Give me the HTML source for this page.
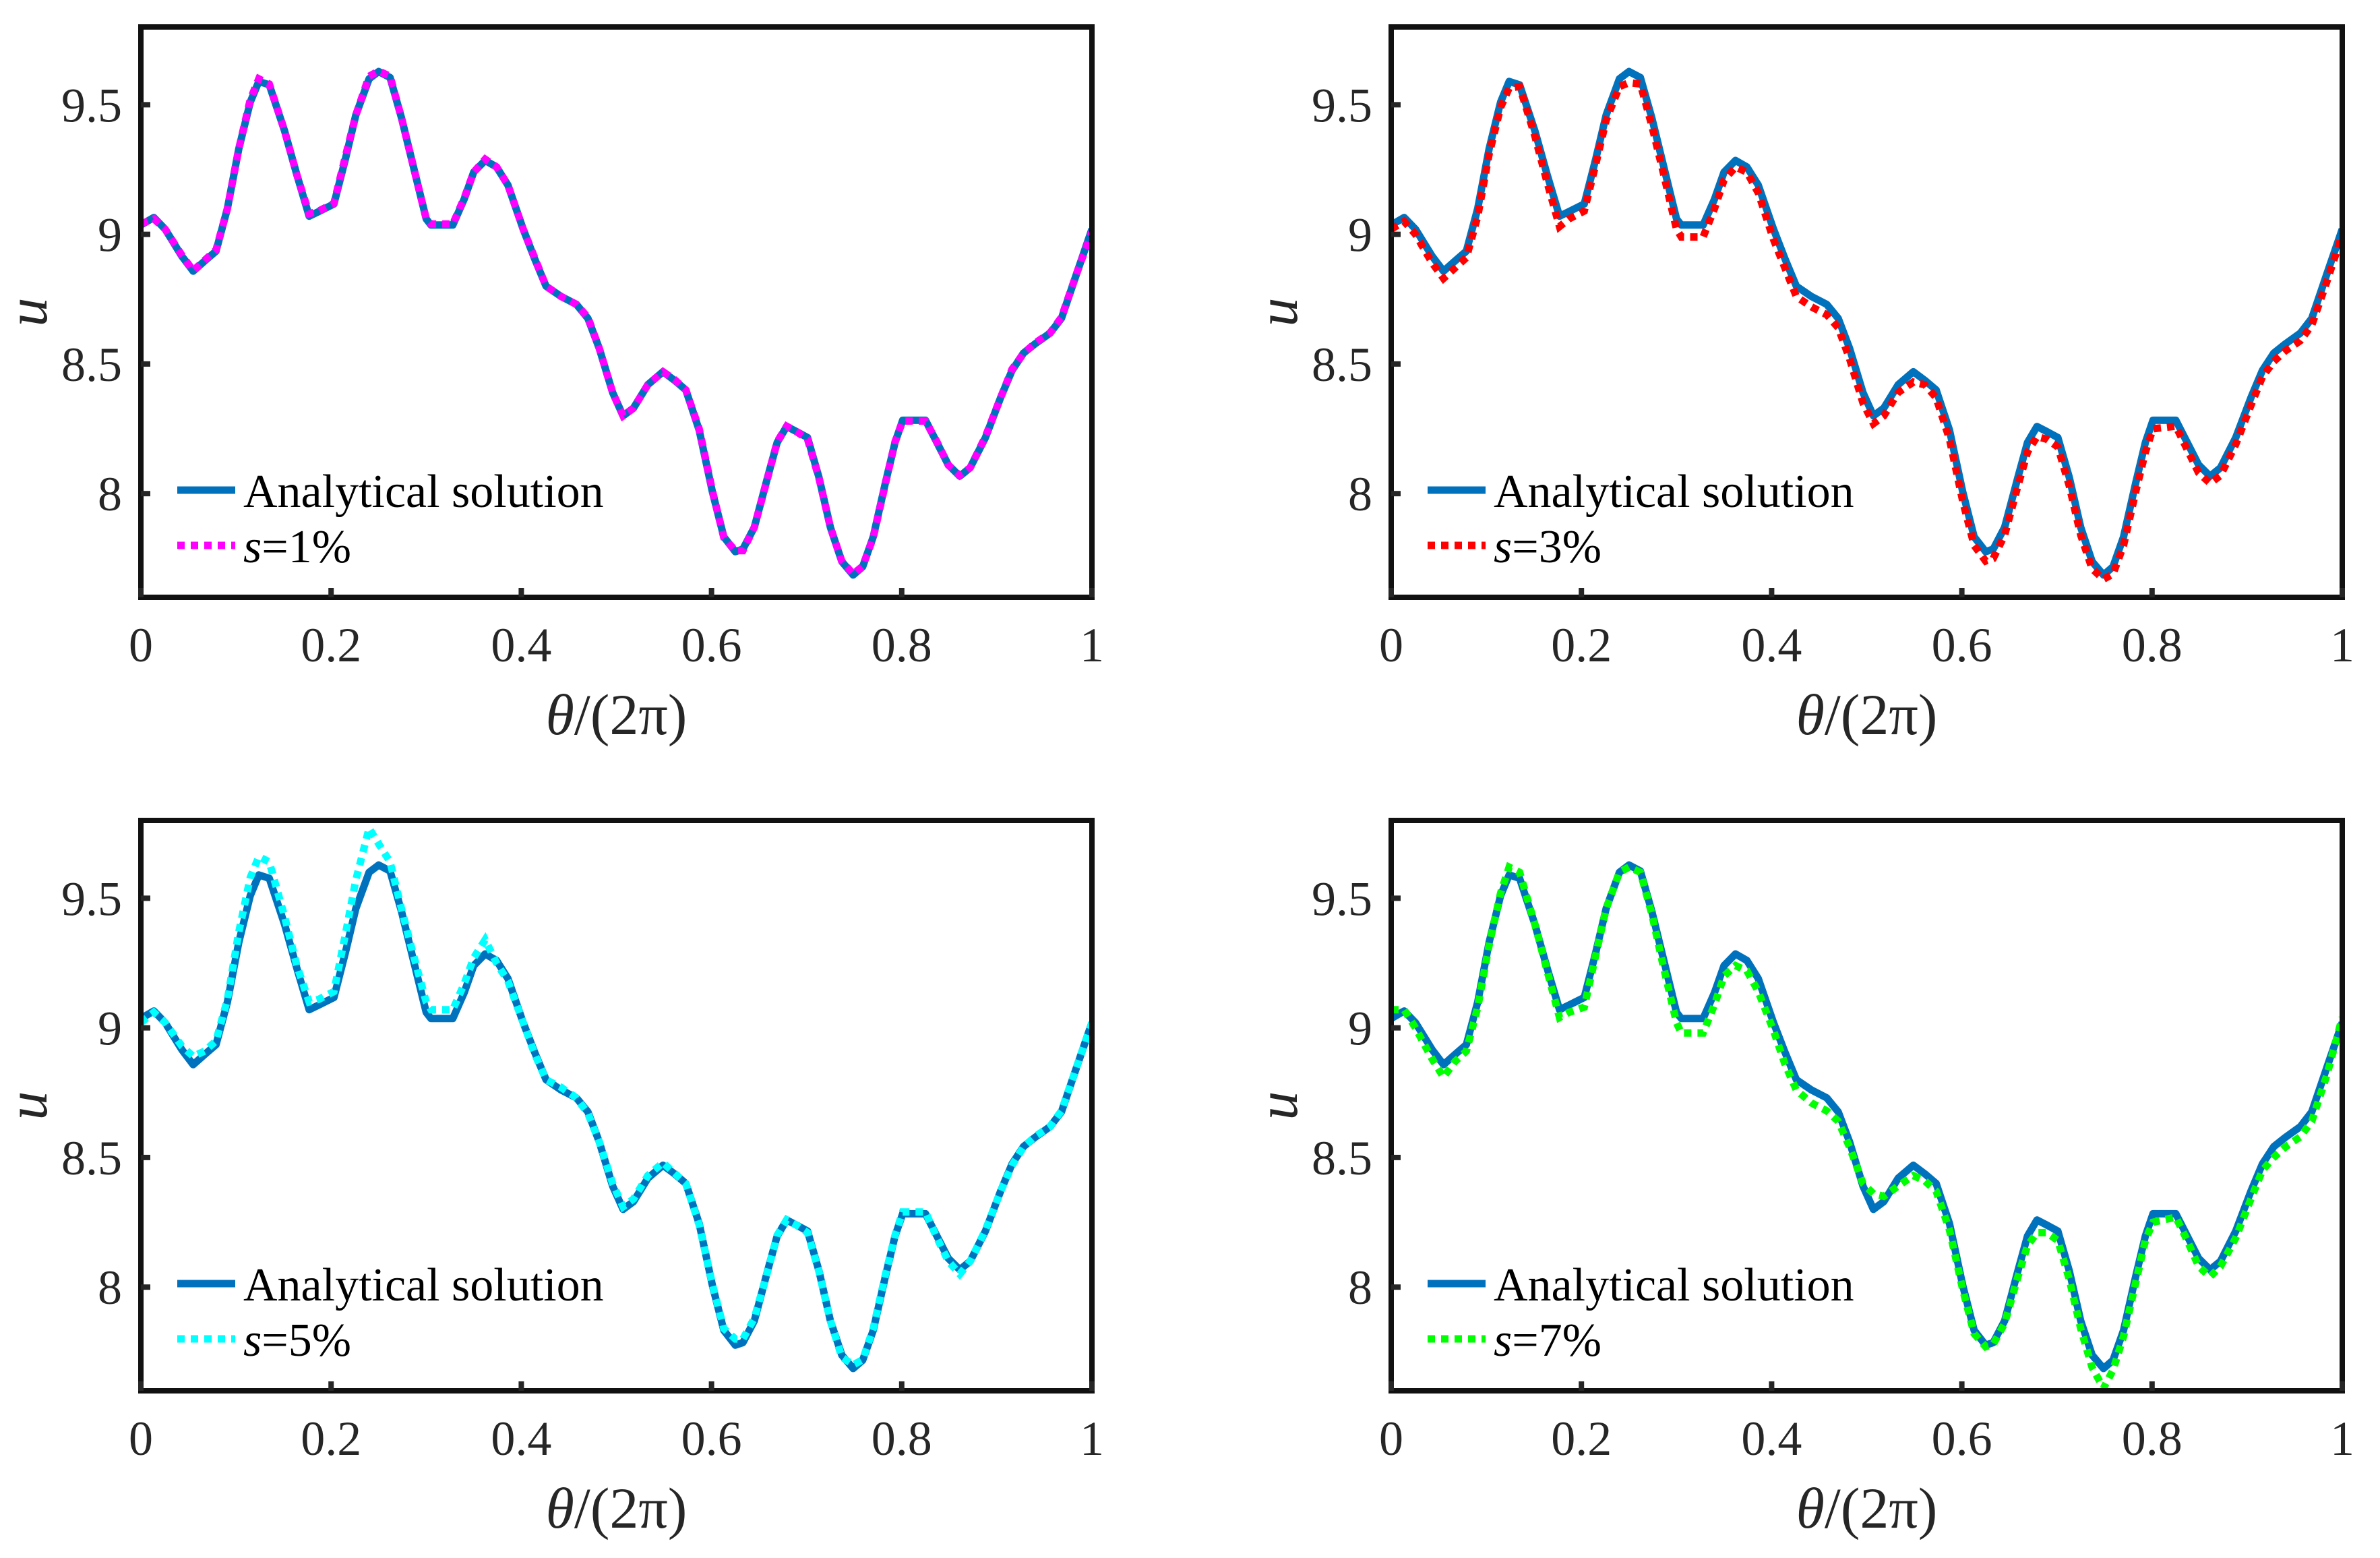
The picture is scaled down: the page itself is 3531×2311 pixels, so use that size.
<!DOCTYPE html>
<html><head><meta charset="utf-8"><style>
html,body{margin:0;padding:0;background:#fff;}
svg{display:block;font-family:"Liberation Serif","Times New Roman",serif;}
</style></head>
<body>
<svg id="fig" width="3531" height="2311" viewBox="0 0 3531 2311" xmlns="http://www.w3.org/2000/svg"></svg>
<script>
const X = [0,0.0136,0.0255,0.043,0.055,0.067,0.079,0.091,0.103,0.115,0.124,0.135,0.151,0.164,0.177,0.187,0.203,0.215,0.226,0.24,0.25,0.262,0.274,0.286,0.30,0.305,0.328,0.34,0.35,0.362,0.374,0.386,0.402,0.414,0.426,0.442,0.458,0.47,0.482,0.496,0.507,0.518,0.533,0.549,0.561,0.573,0.587,0.601,0.613,0.625,0.633,0.645,0.659,0.669,0.679,0.689,0.701,0.713,0.725,0.737,0.749,0.759,0.77,0.783,0.793,0.801,0.825,0.837,0.849,0.861,0.872,0.888,0.904,0.916,0.928,0.94,0.956,0.968,0.984,1.0];
const analytical = [9.036,9.065,9.02,8.916,8.858,8.897,8.935,9.10,9.33,9.51,9.59,9.577,9.40,9.23,9.07,9.088,9.117,9.29,9.46,9.60,9.628,9.605,9.45,9.27,9.06,9.036,9.036,9.136,9.24,9.285,9.26,9.19,9.02,8.906,8.80,8.76,8.73,8.676,8.56,8.39,8.30,8.33,8.42,8.47,8.437,8.40,8.245,8.006,7.833,7.776,7.786,7.87,8.063,8.197,8.259,8.24,8.216,8.063,7.87,7.738,7.686,7.718,7.833,8.044,8.197,8.283,8.283,8.197,8.111,8.067,8.10,8.216,8.37,8.475,8.542,8.577,8.619,8.676,8.849,9.02];
const s1 = [9.04,9.06,9.02,8.92,8.86,8.90,8.94,9.10,9.33,9.52,9.60,9.58,9.40,9.23,9.08,9.09,9.12,9.30,9.46,9.61,9.63,9.61,9.45,9.27,9.06,9.04,9.04,9.14,9.24,9.29,9.26,9.19,9.02,8.91,8.80,8.76,8.73,8.68,8.56,8.39,8.30,8.33,8.42,8.47,8.44,8.40,8.25,8.01,7.83,7.78,7.78,7.87,8.06,8.20,8.26,8.24,8.21,8.06,7.87,7.74,7.69,7.72,7.83,8.04,8.20,8.28,8.28,8.20,8.11,8.07,8.10,8.22,8.37,8.48,8.54,8.58,8.62,8.68,8.85,9.01];
const s3 = [9.02,9.05,9.00,8.89,8.83,8.87,8.91,9.07,9.31,9.49,9.565,9.57,9.38,9.20,9.03,9.06,9.09,9.27,9.44,9.57,9.585,9.58,9.42,9.24,9.02,8.99,8.99,9.10,9.21,9.26,9.24,9.16,8.98,8.87,8.76,8.72,8.69,8.64,8.52,8.35,8.27,8.30,8.39,8.43,8.42,8.37,8.21,7.97,7.80,7.74,7.75,7.84,8.03,8.16,8.22,8.21,8.18,8.03,7.84,7.71,7.67,7.69,7.80,8.01,8.16,8.25,8.26,8.17,8.08,8.04,8.07,8.19,8.34,8.45,8.51,8.55,8.59,8.65,8.82,9.00];
const s5 = [9.02,9.06,9.02,8.93,8.89,8.91,8.95,9.11,9.37,9.58,9.66,9.64,9.43,9.24,9.10,9.11,9.14,9.36,9.57,9.77,9.71,9.64,9.46,9.29,9.10,9.07,9.07,9.17,9.27,9.34,9.25,9.18,9.02,8.90,8.80,8.77,8.73,8.67,8.56,8.40,8.31,8.34,8.43,8.48,8.44,8.40,8.24,8.01,7.84,7.80,7.80,7.88,8.06,8.20,8.26,8.24,8.21,8.06,7.87,7.73,7.70,7.72,7.84,8.05,8.20,8.29,8.29,8.19,8.10,8.05,8.10,8.22,8.37,8.47,8.54,8.58,8.62,8.68,8.85,9.02];
const s7 = [9.07,9.07,9.00,8.88,8.81,8.87,8.91,9.08,9.32,9.52,9.62,9.60,9.40,9.22,9.04,9.06,9.08,9.28,9.46,9.60,9.62,9.60,9.44,9.24,9.02,8.98,8.98,9.09,9.20,9.24,9.22,9.14,8.99,8.86,8.76,8.71,8.68,8.64,8.54,8.40,8.36,8.35,8.39,8.43,8.41,8.37,8.22,7.99,7.82,7.77,7.78,7.86,8.04,8.16,8.21,8.21,8.18,8.03,7.84,7.69,7.61,7.68,7.81,8.02,8.18,8.25,8.27,8.18,8.08,8.04,8.08,8.19,8.34,8.45,8.50,8.54,8.58,8.64,8.82,9.04];
const xTicks = [0,0.2,0.4,0.6,0.8,1];
const xTickLabels = ["0","0.2","0.4","0.6","0.8","1"];
const yTicks = [8,8.5,9,9.5];
const yTickLabels = ["8","8.5","9","9.5"];
const noiseLabels = ["1%","3%","5%","7%"];
const noiseColors = ["#FF00FF","#FF0000","#00FFFF","#00FF00"];
const noiseSeries = [s1,s3,s5,s7];

const NS="http://www.w3.org/2000/svg";
const svg=document.getElementById('fig');
const W=1411,H=846,YMIN=7.6,YMAX=9.8;
const origins=[[209,40],[2064,40],[209,1217],[2064,1217]];
function mk(tag,attrs,parent){const e=document.createElementNS(NS,tag);for(const k in attrs)e.setAttribute(k,attrs[k]);parent.appendChild(e);return e;}

origins.forEach((o,i)=>{
  const L=o[0],T=o[1];
  const sx=v=>L+v*W, sy=v=>T+(YMAX-v)/(YMAX-YMIN)*H;
  const g=mk('g',{},svg);
  
  
  // clip
  const cp=mk('clipPath',{id:'cp'+i},g);
  mk('rect',{x:L,y:T,width:W,height:H},cp);
  const pts=arr=>arr.map((v,j)=>sx(X[j]).toFixed(1)+','+sy(v).toFixed(1)).join(' ');
  const a=mk('polyline',{points:pts(analytical),fill:'none',stroke:'#0072BD','stroke-width':11,'stroke-linejoin':'round','clip-path':'url(#cp'+i+')'},g);
  
  
  const n=mk('polyline',{points:pts(noiseSeries[i]),fill:'none',stroke:noiseColors[i],'stroke-width':11,'stroke-dasharray':'11 9','clip-path':'url(#cp'+i+')'},g);
  
  
  // axes box
  const box=mk('rect',{x:L,y:T,width:W,height:H,fill:'none',stroke:'#111','stroke-width':8},g);
  
  
  xTicks.forEach((t,j)=>{
    const tk=mk('line',{x1:sx(t),x2:sx(t),y1:T+H,y2:T+H-14,stroke:'#262626','stroke-width':8},g);
    
    
    const tl=mk('text',{x:sx(t),y:T+H+95,'text-anchor':'middle','font-size':72,fill:'#262626'},g);
    tl.textContent=xTickLabels[j];
    
    
  });
  yTicks.forEach((t,j)=>{
    const tk=mk('line',{x1:L,x2:L+14,y1:sy(t),y2:sy(t),stroke:'#262626','stroke-width':8},g);
    
    
    const tl=mk('text',{x:L-28,y:sy(t)+25,'text-anchor':'end','font-size':72,fill:'#262626'},g);
    tl.textContent=yTickLabels[j];
    
    
  });
  const xl=mk('text',{x:L+W/2,y:T+H+203,'text-anchor':'middle','font-size':86,fill:'#262626'},g);
  xl.innerHTML='<tspan font-style="italic">θ</tspan>/(2π)';
  
  
  const yl=mk('text',{x:0,y:0,'text-anchor':'middle','font-size':86,'font-style':'italic',fill:'#262626',transform:`translate(${L-140},${T+H/2}) rotate(-90)`},g);
  yl.textContent='u';
  
  
  // legend
  const lg=mk('g',{},g);
  
  
  const r1=T+687,r2=T+769;
  mk('line',{x1:L+54,x2:L+140,y1:r1,y2:r1,stroke:'#0072BD','stroke-width':11},lg);
  const t1=mk('text',{x:L+152,y:r1+25,'font-size':70,fill:'#000'},lg);
  t1.textContent='Analytical solution';
  
  
  mk('line',{x1:L+54,x2:L+140,y1:r2,y2:r2,stroke:noiseColors[i],'stroke-width':11,'stroke-dasharray':'11 9'},lg);
  const t2=mk('text',{x:L+152,y:r2+25,'font-size':70,fill:'#000'},lg);
  t2.innerHTML='<tspan font-style="italic">s</tspan>='+noiseLabels[i];
  
  
});
</script>
</body></html>
